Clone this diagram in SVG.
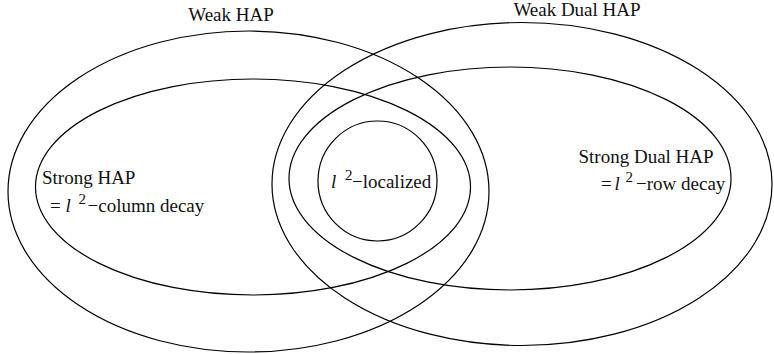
<svg xmlns="http://www.w3.org/2000/svg" width="774" height="354" viewBox="0 0 774 354">
<style>
.set{fill:none;stroke:#000;stroke-width:1.2}
.lbl{font-family:'Liberation Serif','Times New Roman','DejaVu Serif',serif;font-size:19px;fill:#111}
.it{font-style:italic}
.sup{font-size:15px}
</style>
<rect width="774" height="354" fill="#fff"/>
<g id="weak-hap">
<ellipse class="set" cx="248.5" cy="191.5" rx="240.5" ry="160.5"/>
<text class="lbl" x="231" y="21" text-anchor="middle">Weak HAP</text>
</g>
<g id="weak-dual-hap">
<ellipse class="set" cx="522" cy="184" rx="250" ry="161.5"/>
<text class="lbl" x="577" y="15.5" text-anchor="middle">Weak Dual HAP</text>
</g>
<g id="strong-hap">
<ellipse class="set" cx="253" cy="187" rx="217.5" ry="108"/>
<text class="lbl" x="42" y="184">Strong HAP</text>
<text class="lbl" y="212"><tspan x="50">=</tspan><tspan x="65.5" class="it">l</tspan><tspan x="78.5" y="203.5" class="sup">2</tspan><tspan x="87.5" y="212">−column decay</tspan></text>
</g>
<g id="strong-dual-hap">
<ellipse class="set" cx="510" cy="178.5" rx="221" ry="111.5"/>
<text class="lbl" x="578.5" y="163">Strong Dual HAP</text>
<text class="lbl" y="190"><tspan x="601">=</tspan><tspan x="614.5" class="it">l</tspan><tspan x="625.5" y="181.5" class="sup">2</tspan><tspan x="636" y="190">−row decay</tspan></text>
</g>
<g id="l2-localized">
<ellipse class="set" cx="377.5" cy="181" rx="59.5" ry="60"/>
<text class="lbl" y="188"><tspan x="331" class="it">l</tspan><tspan x="345" y="179.5" class="sup">2</tspan><tspan x="352" y="188">−localized</tspan></text>
</g>
<g id="connectors"/>
</svg>
